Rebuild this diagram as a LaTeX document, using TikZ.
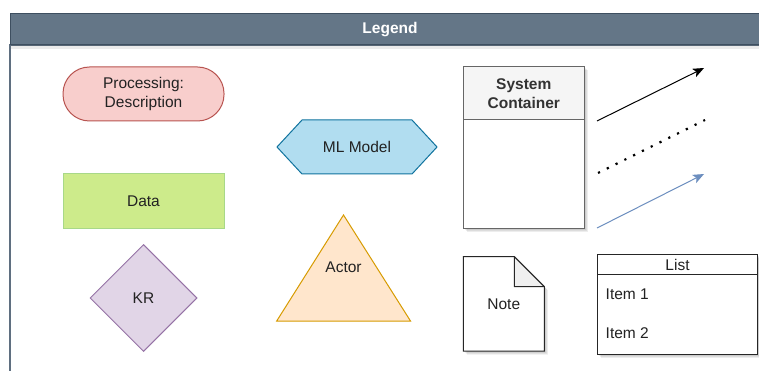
\documentclass[tikz,border=0pt]{standalone}
\usepackage{fontspec}
\setmainfont{Liberation Sans}
\usetikzlibrary{arrows.meta,shapes.geometric}

\definecolor{hdrfill}{HTML}{647687}
\definecolor{hdrline}{HTML}{3E4F60}
\definecolor{frameline}{HTML}{5F6F80}
\definecolor{procfill}{HTML}{F8CECC}
\definecolor{procline}{HTML}{B85450}
\definecolor{mlfill}{HTML}{B1DDF0}
\definecolor{mlline}{HTML}{10739E}
\definecolor{datafill}{HTML}{CDEB8B}
\definecolor{dataline}{HTML}{A8D888}
\definecolor{krfill}{HTML}{E1D5E7}
\definecolor{krline}{HTML}{9673A6}
\definecolor{actfill}{HTML}{FFE6CC}
\definecolor{actline}{HTML}{D79B00}
\definecolor{sysfill}{HTML}{F5F5F5}
\definecolor{sysline}{HTML}{666666}
\definecolor{systext}{HTML}{333333}
\definecolor{bluearrow}{HTML}{6C8EBF}
\definecolor{foldfill}{HTML}{EFEFEF}
\definecolor{txt}{HTML}{222222}

\tikzset{
  lbl/.style={font=\fontsize{15.5}{19}\selectfont, text=txt, align=center, inner sep=0pt},
  shape box/.style={lbl, draw, line width=1pt, inner sep=0pt},
  tipline/.style={line width=1pt, -{Stealth[length=11pt,width=9pt,inset=2.5pt]}},
  shade a/.style={fill=black, opacity=0.07},
}

\begin{document}
\begin{tikzpicture}[x=1pt,y=-1pt]
  \useasboundingbox (0,0) rectangle (759,371);
  \clip (0,0) rectangle (759,371);

  % outer legend frame and its title bar
  \draw[frameline, line width=1.6pt, fill=white] (10,45) rectangle (800,420);
  \fill[black, opacity=0.08] (11,45) rectangle (800,49);
  \draw[hdrline, line width=1pt, fill=hdrfill] (10,14) rectangle (800,45);
  \node[lbl, text=white, font=\fontsize{15.5}{19}\selectfont\bfseries] (title) at (390,30) {Legend};

  % processing step
  \node[shape box, draw=procline, fill=procfill, rounded corners=26.5pt,
        minimum width=161pt, minimum height=54pt] (proc) at (143.5,94) {Processing:\\Description};

  % data
  \node[shape box, draw=dataline, fill=datafill,
        minimum width=161pt, minimum height=54pt] (data) at (143.5,201) {Data};

  % knowledge representation
  \node[shape box, draw=krline, fill=krfill, diamond, aspect=1,
        minimum width=107pt, minimum height=107pt] (kr) at (143.5,298) {};
  \node[lbl] (krtext) at (143.5,298) {KR};

  % machine-learning model
  \draw[mlline, fill=mlfill, line width=1pt]
    (277,147) -- (302,120) -- (412,120) -- (437,147) -- (412,174) -- (302,174) -- cycle;
  \node[lbl] (ml) at (357,147) {ML Model};

  % actor
  \draw[actline, fill=actfill, line width=1pt]
    (343.5,215) -- (410.5,321) -- (276.7,321) -- cycle;
  \node[lbl] (actor) at (343.5,267) {Actor};

  % system container (soft shadow, body, header)
  \foreach \d in {1.5,2.5,3.5}
    \fill[shade a] (463.3+\d,67+\d) rectangle (584.3+\d,228+\d);
  \draw[sysline, fill=white, line width=1pt] (463.3,67) rectangle (584.3,228);
  \draw[sysline, fill=sysfill, line width=1pt] (463.3,67) rectangle (584.3,120);
  \node[lbl, text=systext, font=\fontsize{15.5}{19}\selectfont\bfseries] (sys) at (523.8,93.5) {System\\Container};

  % connector styles
  \coordinate (a1s) at (597,121);
  \coordinate (a1e) at (704,68);
  \coordinate (a2s) at (598,173);
  \coordinate (a2e) at (705,120);
  \coordinate (a3s) at (597,228);
  \coordinate (a3e) at (704,174);
  \draw[tipline, black] (a1s) -- (a1e);
  \draw[black, line width=2.2pt, dash pattern=on 2.2pt off 7.6pt] (a2s) -- (a2e);
  \draw[tipline, bluearrow] (a3s) -- (a3e);

  % note
  \foreach \d in {1.5,2.5,3.5}
    \fill[shade a] (463.3+\d,256.7+\d) -- (514.3+\d,256.7+\d) -- (544.3+\d,286.7+\d)
      -- (544.3+\d,351+\d) -- (463.3+\d,351+\d) -- cycle;
  \draw[black!85, fill=white, line width=1pt]
    (463.3,256.7) -- (514.3,256.7) -- (544.3,286.7) -- (544.3,351) -- (463.3,351) -- cycle;
  \draw[black!85, fill=foldfill, line width=1pt, line join=round]
    (514.3,256.7) -- (514.3,286.7) -- (544.3,286.7) -- cycle;
  \node[lbl] (note) at (503.8,304) {Note};

  % list
  \foreach \d in {1.5,2.5,3.5}
    \fill[shade a] (597.3+\d,254.3+\d) rectangle (757.7+\d,354.3+\d);
  \draw[black!85, fill=white, line width=1pt] (597.3,254.3) rectangle (757.7,354.3);
  \draw[black!85, line width=1pt] (597.3,274.3) -- (757.7,274.3);
  \node[lbl] (list) at (677.5,264.5) {List};
  \node[lbl, anchor=west] (item1) at (605.5,294.5) {Item 1};
  \node[lbl, anchor=west] (item2) at (605.5,333.5) {Item 2};
\end{tikzpicture}
\end{document}
